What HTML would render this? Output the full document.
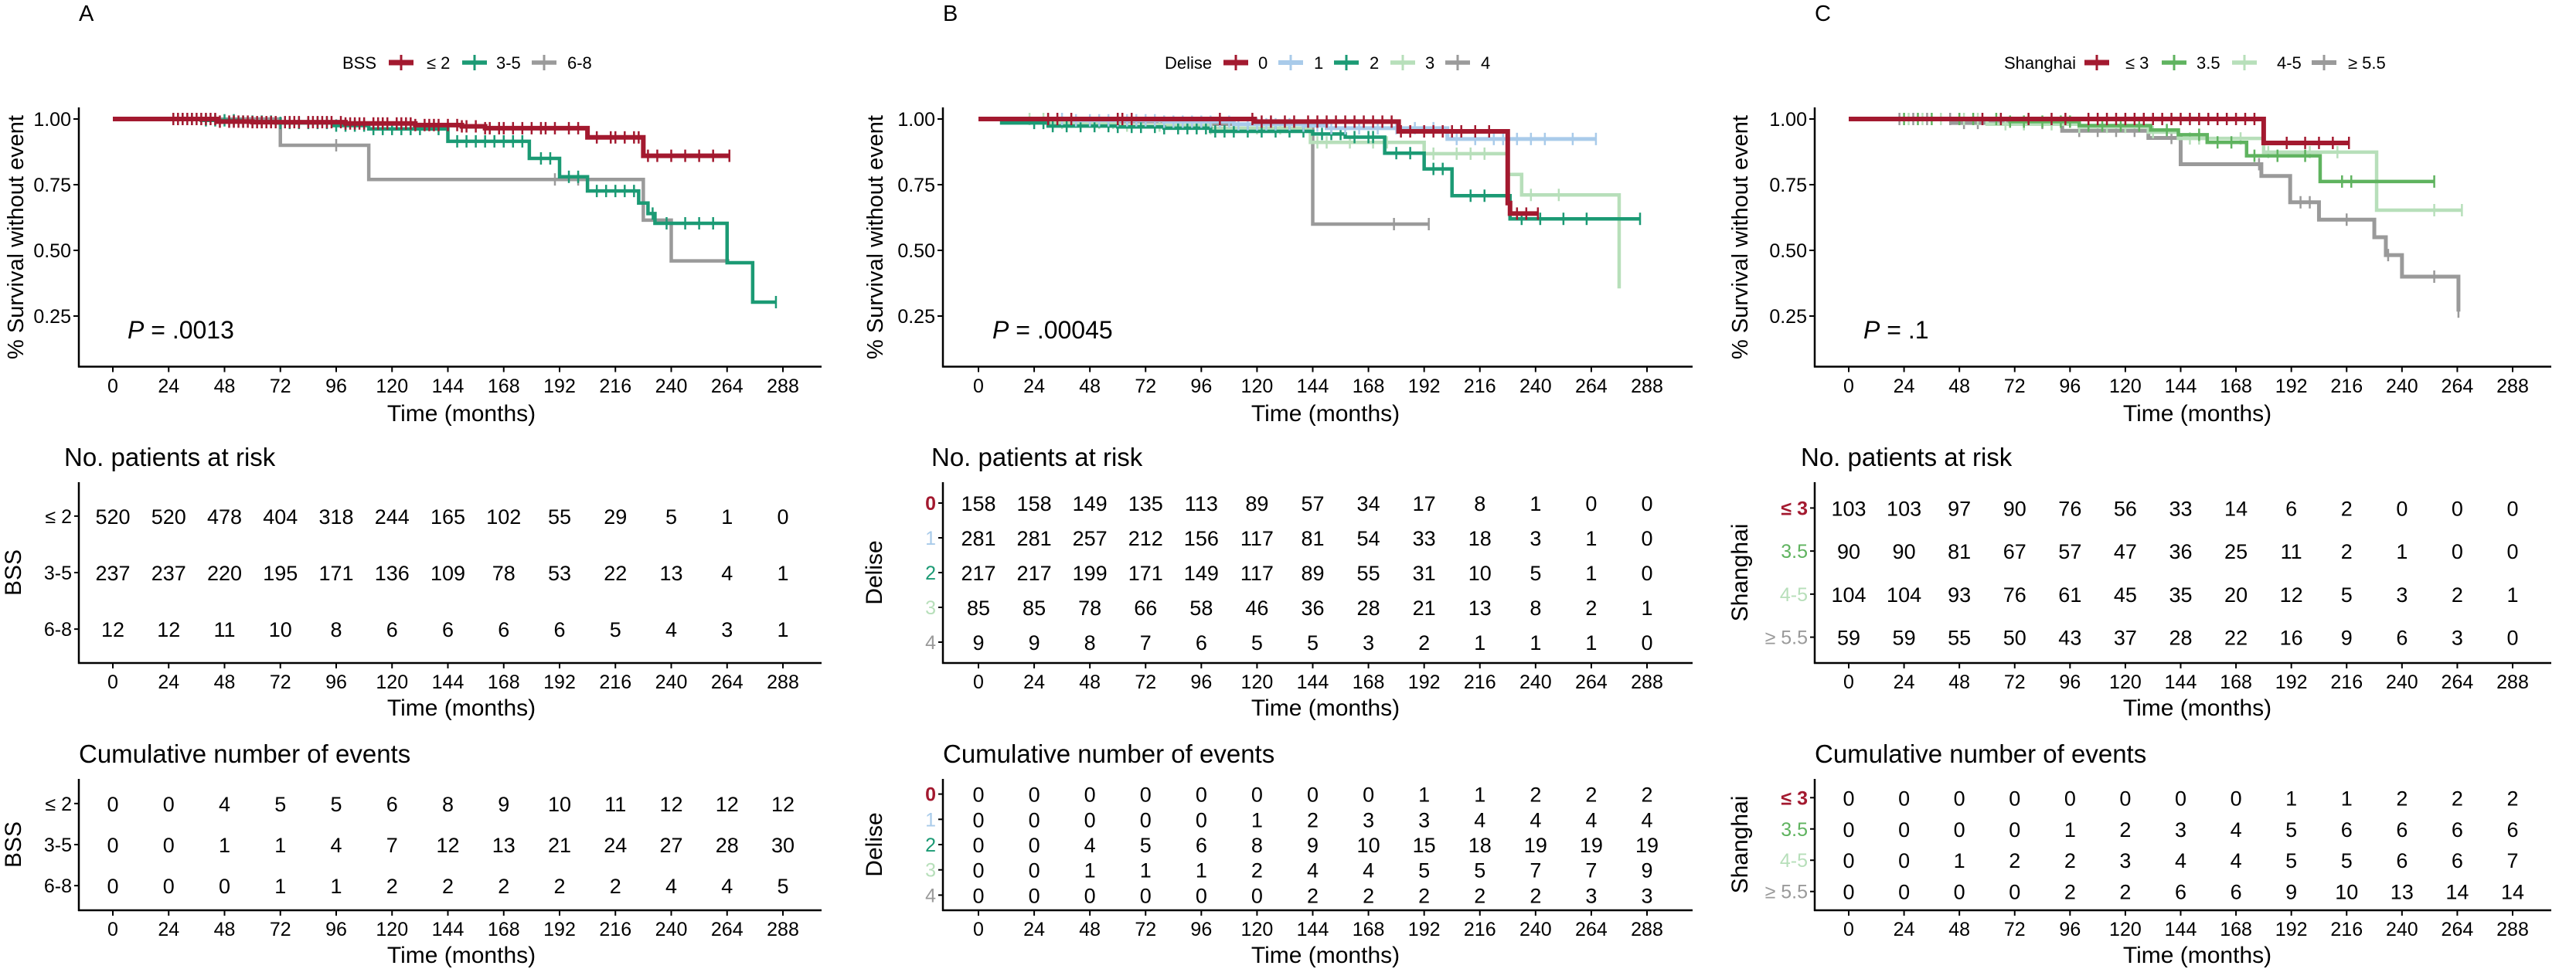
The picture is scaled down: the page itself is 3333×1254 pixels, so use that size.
<!DOCTYPE html>
<html><head><meta charset="utf-8">
<style>
html,body{margin:0;padding:0;background:#fff;}
svg{display:block;font-family:"Liberation Sans",Arial,sans-serif;}
</style></head>
<body>
<svg id="fig" width="3333" height="1254" viewBox="0 0 3333 1254" xmlns="http://www.w3.org/2000/svg"></svg>
<script>
// ===== Data =====
const timeTicks = [0,24,48,72,96,120,144,168,192,216,240,264,288];
const survTicks = [0.25,0.5,0.75,1.0];
const survTickLabels = ["0.25","0.50","0.75","1.00"];

// Panel A (BSS)
const aGroups = ["≤ 2","3-5","6-8"];
const aRedT = [0,45,60,100,130,150,160,204,228];
const aRedS = [1,0.99,0.988,0.983,0.977,0.972,0.965,0.93,0.86];
const aRedEnd = 265;
const aRedC = [26,28,30,32,34,36,38,40,42,44,46,50,52,54,56,58,60,62,64,66,68,70,74,76,78,80,84,86,88,90,92,94,98,100,102,104,106,108,112,114,116,118,122,124,126,128,130,134,136,138,140,144,148,150,152,156,160,162,166,168,172,176,180,184,186,190,196,200,208,214,216,220,224,226,230,234,240,246,252,258,265];
const aGreenT = [0,38,55,70,95,110,144,179,192,204,226,230,233,264,275];
const aGreenS = [1,0.995,0.99,0.985,0.975,0.962,0.915,0.85,0.78,0.726,0.68,0.64,0.603,0.453,0.303];
const aGreenEnd = 285;
const aGreenC = [26,30,34,40,44,48,52,56,60,64,68,72,76,80,84,88,92,96,100,104,108,112,116,120,124,128,132,140,148,152,156,160,164,168,172,176,184,188,196,200,208,212,216,220,224,232,238,246,252,258,285];
const aGrayT = [0,72,110,228,240];
const aGrayS = [1,0.9,0.77,0.615,0.46];
const aGrayEnd = 265;
const aGrayC = [96,190,200];
const aRisk = [[520,520,478,404,318,244,165,102,55,29,5,1,0],[237,237,220,195,171,136,109,78,53,22,13,4,1],[12,12,11,10,8,6,6,6,6,5,4,3,1]];
const aEvents = [[0,0,4,5,5,6,8,9,10,11,12,12,12],[0,0,1,1,4,7,12,13,21,24,27,28,30],[0,0,0,1,1,2,2,2,2,2,4,4,5]];

// Panel B (Delise)
const bGroups = ["0","1","2","3","4"];
const b0T = [0,119,181,228,229]; const b0S = [1,0.99,0.953,0.68,0.64]; const b0End = 241;
const b0C = [30,34,40,60,62,66,104,118,122,126,132,136,142,146,150,154,158,162,166,170,174,178,182,186,192,196,200,204,208,214,220,232,236,241];
const b1T = [0,40,80,110,140,150,202]; const b1S = [1,0.995,0.99,0.98,0.975,0.965,0.924]; const b1End = 266;
const b1C = [30,36,42,48,52,56,60,64,68,72,76,80,84,88,92,96,100,104,108,112,116,120,124,128,134,140,146,152,158,164,172,180,188,196,206,214,222,226,232,238,244,256,266];
const b2T = [0,10,30,60,80,100,144,158,175,192,204,229]; const b2S = [1,0.985,0.973,0.97,0.965,0.953,0.943,0.931,0.87,0.81,0.708,0.62]; const b2End = 285;
const b2C = [24,28,32,38,44,50,56,60,66,70,76,80,86,90,94,98,102,106,110,116,122,128,134,140,148,152,156,162,168,170,180,186,196,200,212,218,234,242,252,262,285];
const b3T = [0,30,60,100,143,192,228,234,276]; const b3S = [1,0.985,0.975,0.965,0.911,0.868,0.789,0.711,0.355]; const b3End = 276;
const b3C = [22,28,36,44,52,58,64,70,78,86,94,100,110,120,130,146,150,160,170,176,196,206,212,218,238,250];
const b4T = [0,38,100,144]; const b4S = [1,0.99,0.98,0.6]; const b4End = 194;
const b4C = [40,60,62,80,179,194];
const bRisk = [[158,158,149,135,113,89,57,34,17,8,1,0,0],[281,281,257,212,156,117,81,54,33,18,3,1,0],[217,217,199,171,149,117,89,55,31,10,5,1,0],[85,85,78,66,58,46,36,28,21,13,8,2,1],[9,9,8,7,6,5,5,3,2,1,1,1,0]];
const bEvents = [[0,0,0,0,0,0,0,0,1,1,2,2,2],[0,0,0,0,0,1,2,3,3,4,4,4,4],[0,0,4,5,6,8,9,10,15,18,19,19,19],[0,0,1,1,1,2,4,4,5,5,7,7,9],[0,0,0,0,0,0,2,2,2,2,2,3,3]];

// Panel C (Shanghai)
const cGroups = ["≤ 3","3.5","4-5","≥ 5.5"];
const c0T = [0,180]; const c0S = [1,0.909]; const c0End = 217;
const c0C = [58,66,78,88,94,104,108,112,116,120,124,128,132,136,140,144,148,152,156,160,164,168,172,176,190,198,204,210,217];
const c1T = [0,70,100,131,143,155.5,172.6,204.5]; const c1S = [1,0.99,0.975,0.958,0.94,0.911,0.86,0.762]; const c1End = 254;
const c1C = [24,30,36,48,54,64,70,76,84,92,96,104,110,118,126,138,152,160,166,176,186,198,214,218,254];
const c2T = [0,60,100,130,143,180,229]; const c2S = [1,0.98,0.97,0.95,0.926,0.874,0.653]; const c2End = 266;
const c2C = [26,32,40,50,56,68,76,88,100,112,120,132,148,152,170,182,200,212,254,266];
const c3T = [0,45,92.6,130,144,179,191.5,204,228,233,240,264.5]; const c3S = [1,0.985,0.955,0.928,0.828,0.783,0.683,0.617,0.55,0.482,0.40,0.267]; const c3End = 264.5;
const c3C = [22,28,34,44,50,56,84,100,108,116,124,140,178,196,200,216,234,254,264.5];
const cRisk = [[103,103,97,90,76,56,33,14,6,2,0,0,0],[90,90,81,67,57,47,36,25,11,2,1,0,0],[104,104,93,76,61,45,35,20,12,5,3,2,1],[59,59,55,50,43,37,28,22,16,9,6,3,0]];
const cEvents = [[0,0,0,0,0,0,0,0,1,1,2,2,2],[0,0,0,0,1,2,3,4,5,6,6,6,6],[0,0,1,2,2,3,4,4,5,5,6,6,7],[0,0,0,0,2,2,6,6,9,10,13,14,14]];

// ===== Styles / layout =====
const RED="#A3192F", TEAL="#1B9A74", GRAY="#9A9A9A", LBLUE="#A9CBEA", PALE="#B7DFBA", MGREEN="#5FB35F";
const NS="http://www.w3.org/2000/svg";
const svg=document.getElementById('fig');
function mk(tag,attrs,parent){const e=document.createElementNS(NS,tag);for(const k in attrs)e.setAttribute(k,attrs[k]);(parent||svg).appendChild(e);return e;}
function txt(s,attrs,parent){const e=mk('text',attrs,parent);e.textContent=s;return e;}

const panels=[
 {id:'a',letter:'A',ax:102,x0:146,x288:1013,axEnd:1063,yTitleX:20,tblTitleX:83,tblLabelX:17,
  pX:165,pText:'.0013',legendTitle:'BSS',legendTitleX:443,legendKeys:[503,598,688],legendTextX:[552,642,734],
  groups:aGroups,colors:[RED,TEAL,GRAY],labelColors:['#000','#000','#000'],bold:[false,false,false],lw:[6,4.5,4.5],
  curves:[[aRedT,aRedS,aRedEnd,aRedC],[aGreenT,aGreenS,aGreenEnd,aGreenC],[aGrayT,aGrayS,aGrayEnd,aGrayC]],
  risk:aRisk,events:aEvents,tblName:'BSS'},
 {id:'b',letter:'B',ax:1220,x0:1266,x288:2131,axEnd:2190,yTitleX:1132,tblTitleX:1205,tblLabelX:1131,
  pX:1284,pText:'.00045',legendTitle:'Delise',legendTitleX:1507,legendKeys:[1583,1654,1726,1799,1870],legendTextX:[1628,1700,1772,1844,1916],
  groups:bGroups,colors:[RED,LBLUE,TEAL,PALE,GRAY],labelColors:[RED,LBLUE,TEAL,PALE,GRAY],bold:[true,false,false,false,false],lw:[6,5,4.5,4.5,4.5],
  curves:[[b0T,b0S,b0End,b0C],[b1T,b1S,b1End,b1C],[b2T,b2S,b2End,b2C],[b3T,b3S,b3End,b3C],[b4T,b4S,b4End,b4C]],
  risk:bRisk,events:bEvents,tblName:'Delise'},
 {id:'c',letter:'C',ax:2348,x0:2392,x288:3251,axEnd:3301,yTitleX:2251,tblTitleX:2330,tblLabelX:2251,
  pX:2411,pText:'.1',legendTitle:'Shanghai',legendTitleX:2593,legendKeys:[2697,2797,2888,2991],legendTextX:[2750,2842,2946,3038],
  groups:cGroups,colors:[RED,MGREEN,PALE,GRAY],labelColors:[RED,MGREEN,PALE,GRAY],bold:[true,false,false,false],lw:[6,4.5,4.5,5],
  curves:[[c0T,c0S,c0End,c0C],[c1T,c1S,c1End,c1C],[c2T,c2S,c2End,c2C],[c3T,c3S,c3End,c3C]],
  risk:cRisk,events:cEvents,tblName:'Shanghai'}
];

const KM_TOP=139, KM_BOT=474.5, Y1=154, YPX=340; // y(1.0)=154, 1 unit = 340px
function yS(v){return Y1+(1-v)*YPX;}
function stepAt(T,S,t){let s=S[0];for(let i=0;i<T.length;i++){if(T[i]<=t)s=S[i];}return s;}

panels.forEach(P=>{
  const xT=t=>P.x0+t*(P.x288-P.x0)/288;
  const g=mk('g',{});
  
  
  // letter
  const L=txt(P.letter,{x:P.ax,y:27,'font-size':29},g);
  
  
  // legend
  const lg=mk('g',{},g);
  
  
  txt(P.legendTitle,{x:P.legendTitleX,y:89,'font-size':22},lg);
  P.groups.forEach((name,i)=>{
    const e=mk('g',{},lg);
    
    
    const kx=P.legendKeys[i];
    mk('line',{x1:kx,x2:kx+32,y1:81,y2:81,stroke:P.colors[i],'stroke-width':P.lw[i]+1},e);
    mk('line',{x1:kx+16,x2:kx+16,y1:71,y2:91,stroke:P.colors[i],'stroke-width':3},e);
    txt(name,{x:P.legendTextX[i],y:89,'font-size':22},e);
  });
  // KM axes
  const ax=mk('g',{},g);
  
  
  mk('line',{x1:P.ax,x2:P.ax,y1:KM_TOP,y2:KM_BOT+1,stroke:'#000','stroke-width':2.5},ax);
  mk('line',{x1:P.ax-1,x2:P.axEnd,y1:KM_BOT,y2:KM_BOT,stroke:'#000','stroke-width':2.5},ax);
  survTicks.forEach((v,i)=>{
    mk('line',{x1:P.ax-7,x2:P.ax,y1:yS(v),y2:yS(v),stroke:'#000','stroke-width':2},ax);
    txt(survTickLabels[i],{x:P.ax-10,y:yS(v)+9,'font-size':25,'text-anchor':'end'},ax);
  });
  timeTicks.forEach(t=>{
    mk('line',{x1:xT(t),x2:xT(t),y1:KM_BOT,y2:KM_BOT+7,stroke:'#000','stroke-width':2},ax);
    txt(String(t),{x:xT(t),y:508,'font-size':25,'text-anchor':'middle'},ax);
  });
  const xt=txt('Time (months)',{x:P.ax+495,y:545,'font-size':30,'text-anchor':'middle'},ax);
  
  
  const yt=txt('% Survival without event',{x:P.yTitleX,y:307,'font-size':29,'text-anchor':'middle',transform:`rotate(-90 ${P.yTitleX} 307) translate(0 10)`},ax);
  
  
  // curves (draw last group first so first group is on top)
  for(let i=P.curves.length-1;i>=0;i--){
    const [T,S,end,C]=P.curves[i];
    let d=`M${xT(T[0])},${yS(S[0])}`;
    for(let k=1;k<T.length;k++){d+=` H${xT(T[k])} V${yS(S[k])}`;}
    d+=` H${xT(end)}`;
    const cg=mk('g',{},g);
    
    
    mk('path',{d:d,fill:'none',stroke:P.colors[i],'stroke-width':P.lw[i],'stroke-linejoin':'miter'},cg);
    C.forEach(t=>{
      const yy=yS(stepAt(T,S,t));
      const m=mk('line',{x1:xT(t),x2:xT(t),y1:yy-8,y2:yy+8,stroke:P.colors[i],'stroke-width':2.5},cg);
      
      
    });
  }
  // P value
  const pv=mk('text',{x:P.pX,y:438,'font-size':32},g);
  
  
  const ts=mk('tspan',{'font-style':'italic'},pv); ts.textContent='P';
  const ts2=mk('tspan',{},pv); ts2.textContent=' = '+P.pText;

  // tables
  function table(data,title,titleX,titleY,top,bot,tname){
    const tg=mk('g',{},g);
    
    
    txt(title,{x:titleX,y:titleY+12,'font-size':33},tg);
    mk('line',{x1:P.ax,x2:P.ax,y1:top,y2:bot+1,stroke:'#000','stroke-width':2.5},tg);
    mk('line',{x1:P.ax-1,x2:P.axEnd,y1:bot,y2:bot,stroke:'#000','stroke-width':2.5},tg);
    const n=data.length, sp=(bot-top)/(n+0.2), mid=(top+bot)/2;
    data.forEach((row,r)=>{
      const yy=mid+(r-(n-1)/2)*sp;
      mk('line',{x1:P.ax-6,x2:P.ax,y1:yy,y2:yy,stroke:'#000','stroke-width':2},tg);
      const lb=txt(P.groups[r],{x:P.ax-9,y:yy+9,'font-size':25,'text-anchor':'end',fill:P.labelColors[r],'font-weight':P.bold[r]?'bold':'normal'},tg);
      
      
      row.forEach((v,c)=>{
        txt(String(v),{x:xT(timeTicks[c]),y:yy+10,'font-size':27,'text-anchor':'middle'},tg);
      });
    });
    timeTicks.forEach(t=>{
      mk('line',{x1:xT(t),x2:xT(t),y1:bot,y2:bot+7,stroke:'#000','stroke-width':2},tg);
      txt(String(t),{x:xT(t),y:bot+33,'font-size':25,'text-anchor':'middle'},tg);
    });
    txt('Time (months)',{x:P.ax+495,y:bot+68,'font-size':30,'text-anchor':'middle'},tg);
    const cy=(top+bot)/2;
    txt(P.tblName,{x:P.tblLabelX,y:cy,'font-size':30,'text-anchor':'middle',transform:`rotate(-90 ${P.tblLabelX} ${cy}) translate(0 10)`},tg);
  }
  table(P.risk,'No. patients at risk',P.tblTitleX,591,624,858,'risk-table');
  table(P.events,'Cumulative number of events',P.ax,975,1008,1178,'events-table');
});
</script>
</body></html>
